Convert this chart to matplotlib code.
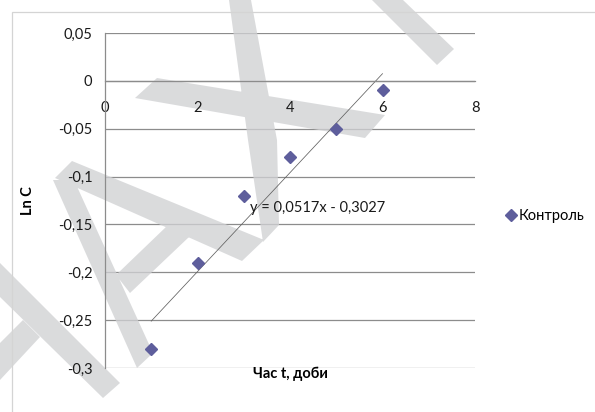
import numpy as np
import matplotlib
matplotlib.use('Agg')
import matplotlib.pyplot as plt
from matplotlib.patches import PathPatch, Rectangle
from matplotlib.path import Path
from matplotlib.ticker import FuncFormatter

plt.rcParams['font.family'] = ['Lato', 'DejaVu Sans']
plt.rcParams['font.size'] = 10.5

# data: ln of concentration over time (days)
days = [1, 2, 3, 4, 5, 6]
ln_c = [-0.28, -0.19, -0.12, -0.08, -0.05, -0.01]
series_name = 'Контроль'

# linear trend as stated on the chart
slope = 0.0517
intercept = -0.3027

x_ticks = [0, 2, 4, 6, 8]
y_ticks = [-0.3, -0.25, -0.2, -0.15, -0.1, -0.05, 0, 0.05]

W, H = 595, 412
fig = plt.figure(figsize=(W / 100, H / 100), dpi=100)
ax = fig.add_axes([105 / W, 1 - 368 / H, 370 / W, 335 / H])

# chart frame
fig.add_artist(Rectangle((12 / W, -0.1), 1.2, 1 - 12 / H + 0.1, transform=fig.transFigure,
                         fill=False, edgecolor='#d4d4d4', linewidth=0.9))

# background watermark strokes (pixel coords, origin top-left)
wm = [
    [(229, 0), (251, 0), (277, 140), (279, 225), (263, 242), (248, 140)],
    [(157, 78), (385, 115), (365, 138), (135, 98)],
    [(55, 178), (72, 161), (264, 240), (242, 261)],
    [(53, 180), (74, 180), (153, 353), (137, 368)],
    [(116, 275), (167, 226), (189, 237), (130, 293)],
    [(0, 263), (120, 383), (103, 398), (0, 297)],
    [(23, 320), (40, 337), (0, 380), (0, 343)],
    [(372, 0), (403, 0), (454, 49), (437, 65)],
]
verts, codes = [], []
for pts in wm:
    p = np.array([(x / W, 1 - y / H) for x, y in pts])
    area = np.sum(p[:, 0] * np.roll(p[:, 1], -1) - np.roll(p[:, 0], -1) * p[:, 1])
    if area < 0:
        p = p[::-1]
    verts += list(map(tuple, p)) + [tuple(p[0])]
    codes += [Path.MOVETO] + [Path.LINETO] * (len(p) - 1) + [Path.CLOSEPOLY]
ax.add_patch(PathPatch(Path(verts, codes), transform=fig.transFigure, clip_on=False,
                       facecolor='#d0d1d3', edgecolor='none', alpha=0.78, zorder=1))

# horizontal gridlines
for yv in y_ticks:
    ax.axhline(yv, color='#8c8c8c', linewidth=0.9, zorder=0.5)

ax.plot(days, ln_c, linestyle='none', marker='D', markersize=6.6,
        color='#5e5e9c', label=series_name, zorder=3)

xt = np.array([min(days), max(days)])
ax.plot(xt, slope * xt + intercept, color='#606060', linewidth=0.55, zorder=2)

eq = 'y = {}x - {}'.format(f'{slope:.4f}'.replace('.', ','), f'{-intercept:.4f}'.replace('.', ','))
ax.text(4.6, -0.133, eq, ha='center', va='center', color='#1a1a1a', zorder=4)

ax.set_xlim(0, 8)
ax.set_ylim(-0.3, 0.05)
ax.set_xticks(x_ticks)
ax.set_yticks(y_ticks)

def comma_fmt(v, _):
    if abs(v) < 1e-9:
        return '0'
    return ('%g' % round(v, 4)).replace('.', ',')

ax.xaxis.set_major_formatter(FuncFormatter(comma_fmt))
ax.yaxis.set_major_formatter(FuncFormatter(comma_fmt))
ax.tick_params(axis='x', length=0, pad=14.5, labelcolor='#1a1a1a')
ax.tick_params(axis='y', length=0, pad=9, labelcolor='#1a1a1a')

for s in ['top', 'right']:
    ax.spines[s].set_visible(False)
ax.spines['bottom'].set_position(('data', 0))
ax.spines['bottom'].set_color('#8c8c8c')
ax.spines['bottom'].set_linewidth(0.9)
ax.spines['left'].set_color('#8c8c8c')
ax.spines['left'].set_linewidth(0.9)

ax.set_ylabel('Ln C', fontweight='bold', va='center')
ax.yaxis.set_label_coords(-0.208, 0.5)
ax.set_xlabel('Час t, доби', fontweight='bold', va='center')
ax.xaxis.set_label_coords(0.5, -0.016)

ax.legend(loc='center left', bbox_to_anchor=(505 / W, 1 - 216 / H), bbox_transform=fig.transFigure,
          frameon=False, handlelength=0.8, handletextpad=0.15, borderpad=0, borderaxespad=0)

fig.savefig('out.png', dpi=100)
